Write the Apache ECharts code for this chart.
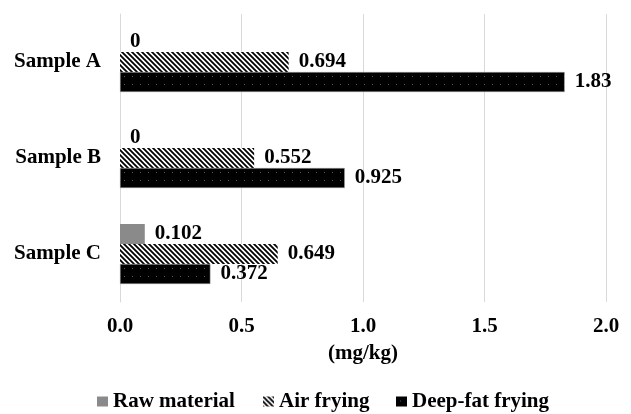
<!DOCTYPE html>
<html>
<head>
<meta charset="utf-8">
<script src="https://cdn.jsdelivr.net/npm/echarts@6/dist/echarts.min.js"></script>
<style>html,body{margin:0;padding:0;background:#fff;}#c{width:631px;height:414px;}</style>
</head>
<body>
<div id="c"></div>
<script>
const categories = ['Sample A', 'Sample B', 'Sample C'];
const seriesNames = ['Raw material', 'Air frying', 'Deep-fat frying'];
const rawMaterial = [0, 0, 0.102];
const airFrying = [0.694, 0.552, 0.649];
const deepFatFrying = [1.83, 0.925, 0.372];
const xTicks = { min: 0, max: 2, interval: 0.5 };

function hatchPattern() {
  const s = 5;
  const c = document.createElement('canvas');
  c.width = s; c.height = s;
  const g = c.getContext('2d');
  g.fillStyle = '#fff'; g.fillRect(0, 0, s, s);
  g.strokeStyle = '#000'; g.lineWidth = 1.8;
  g.beginPath();
  g.moveTo(-1, -1); g.lineTo(s + 1, s + 1);
  g.moveTo(-1, s - 1); g.lineTo(1, s + 1);
  g.moveTo(s - 1, -1); g.lineTo(s + 1, 1);
  g.stroke();
  return c;
}
function dotPattern() {
  const s = 8;
  const c = document.createElement('canvas');
  c.width = s; c.height = s;
  const g = c.getContext('2d');
  g.fillStyle = '#000'; g.fillRect(0, 0, s, s);
  g.fillStyle = '#555'; g.fillRect(4, 4, 1, 1);
  return c;
}

const font = "'Liberation Serif', 'Times New Roman', serif";
const txt = { fontFamily: font, fontWeight: 'bold', fontSize: 21, color: '#000' };

const chart = echarts.init(document.getElementById('c'), null, { renderer: 'canvas' });
const labelCfg = Object.assign({ show: true, position: 'right', distance: 10 }, txt);
const legendLefts = [97, 263, 396];

chart.setOption({
  animation: false,
  backgroundColor: '#fff',
  grid: { left: 120, right: 25, top: 14, bottom: 112 },
  legend: seriesNames.map((n, i) => ({
    bottom: 2, left: legendLefts[i], padding: 0,
    itemWidth: 11, itemHeight: 10, icon: 'rect',
    itemStyle: { borderWidth: 0 },
    textStyle: txt,
    data: [n]
  })),
  xAxis: {
    type: 'value', min: xTicks.min, max: xTicks.max, interval: xTicks.interval,
    name: '(mg/kg)', nameLocation: 'middle', nameGap: 41,
    nameTextStyle: txt,
    axisLine: { show: false }, axisTick: { show: false },
    axisLabel: Object.assign({ margin: 14, formatter: v => v.toFixed(1) }, txt),
    splitLine: { lineStyle: { color: '#d9d9d9', width: 1 } }
  },
  yAxis: {
    type: 'category', data: categories, inverse: true,
    axisLine: { show: true, lineStyle: { color: '#d9d9d9' } },
    axisTick: { show: false },
    axisLabel: Object.assign({ margin: 19 }, txt)
  },
  series: [
    { name: seriesNames[0], type: 'bar', data: rawMaterial, barWidth: 20, barGap: '0%',
      itemStyle: { color: '#8a8a8a' }, label: labelCfg },
    { name: seriesNames[1], type: 'bar', data: airFrying, barWidth: 20, barGap: '0%',
      itemStyle: { color: { image: hatchPattern(), repeat: 'repeat' } }, label: labelCfg },
    { name: seriesNames[2], type: 'bar', data: deepFatFrying, barWidth: 20, barGap: '0%',
      itemStyle: { color: { image: dotPattern(), repeat: 'repeat' }, borderColor: '#aaa', borderWidth: 0.5 }, label: labelCfg }
  ]
});
</script>
</body>
</html>
